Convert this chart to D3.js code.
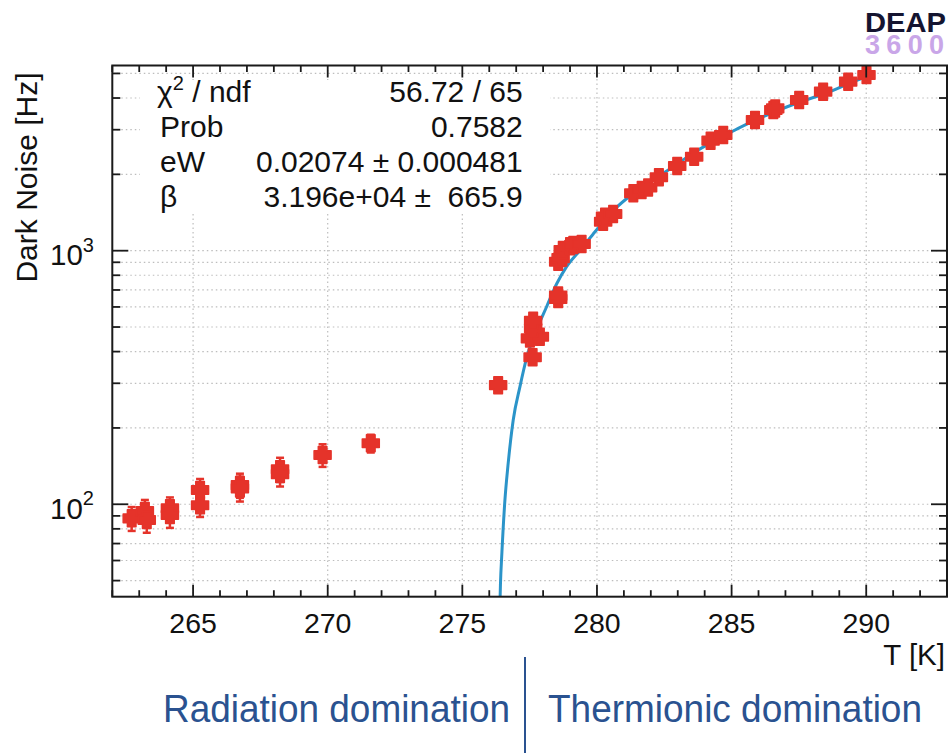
<!DOCTYPE html>
<html>
<head>
<meta charset="utf-8">
<script src="https://cdn.jsdelivr.net/npm/d3@7"></script>
<style>
  html, body { margin: 0; padding: 0; background: #fff; }
  svg { display: block; }
  text { font-family: "Liberation Sans", Arial, Helvetica, sans-serif; }
</style>
</head>
<body>
<svg id="chart" width="949" height="753"></svg>
<script>
// ---------------- data ----------------
const temperatureK = [262.72, 263.21, 263.28, 264.14, 264.14, 265.26, 265.26, 266.74, 266.74, 268.23, 268.23,
  269.81, 271.60, 276.33, 277.61, 277.51, 277.88, 277.63, 277.63, 278.56, 278.56, 278.56, 278.65, 278.73,
  279.00, 279.12, 279.43, 280.23, 280.30, 280.60, 281.35, 281.66, 281.90, 282.30, 282.98, 283.61, 284.22,
  284.69, 285.87, 286.55, 286.62, 287.51, 288.40, 289.33, 290.01];
const darkNoiseHz = [88, 94, 86.7, 96.4, 90.7, 113.8, 99.1, 119, 115.5, 137.5, 131.5,
  156.4, 174, 295, 380, 451, 458, 494, 529, 645, 665, 905, 935, 1006,
  1040, 1053, 1063, 1301, 1362, 1395, 1684, 1735, 1775, 1947, 2158, 2348, 2716,
  2859, 3277, 3587, 3640, 3929, 4238, 4640, 4929];
const darkNoiseErrHz = [9.5, 10, 9.5, 10, 10, 12, 10, 13, 13, 15, 14,
  16, 14, 8, 12, 14, 14, 15, 16, 18, 18, 22, 22, 25,
  25, 25, 25, 30, 30, 30, 35, 35, 35, 40, 45, 45, 50,
  50, 60, 65, 65, 70, 75, 80, 85];

// fit curve
const fitT = [276.378, 276.415, 276.471, 276.582, 276.693, 276.89, 277.14, 277.388, 277.759, 278.13, 278.50,
  278.873, 279.367, 279.861, 280.232, 280.666, 281.224, 282.03, 282.958, 283.575, 284.317, 285.06, 285.80,
  286.67, 287.536, 288.528, 289.27, 290.013];
const fitHz = [33.4, 48.1, 64.9, 104, 141.6, 215, 291, 377.6, 487, 601, 739,
  865, 1002, 1164, 1298, 1460, 1643, 1883, 2188, 2428, 2696, 2965, 3240,
  3555, 3859, 4187, 4523, 4855];

const xMajorTicks = [265, 270, 275, 280, 285, 290];
const xMinorTicks = d3.range(262, 294, 1).filter(v => !xMajorTicks.includes(v));
const yMajorTicks = [100, 1000];
const yMajorLabels = ["2", "3"];
const yMinorTicks = [50, 60, 70, 80, 90, 200, 300, 400, 500, 600, 700, 800, 900, 2000, 3000, 4000, 5000];

const statsNames = ["χ", "Prob", "eW", "β"];
const statsValues = ["56.72 / 65", "0.7582", "0.02074 ± 0.000481", "3.196e+04 ±  665.9"];

// ---------------- layout ----------------
const L = 112.3, R = 947, T = 65.5, B = 596.7;
const svg = d3.select("#chart");
const x = d3.scaleLinear().domain([262, 293]).range([L, R]);
const y = d3.scaleLog().domain([43.2, 5374]).range([B, T]);

const red = "#e5332a";
const blue = "#2b94c9";
const annBlue = "#2a5290";

// grid
const grid = svg.append("g");
grid.selectAll("line.gy").data(yMinorTicks.concat(yMajorTicks)).join("line")
  .attr("x1", L).attr("x2", R).attr("y1", d => y(d)).attr("y2", d => y(d))
  .attr("stroke", "#bdbdbd").attr("stroke-width", 1.2).attr("stroke-dasharray", "1.5,3");
grid.selectAll("line.gx").data(xMajorTicks).join("line")
  .attr("y1", T).attr("y2", B).attr("x1", d => x(d)).attr("x2", d => x(d))
  .attr("stroke", "#bdbdbd").attr("stroke-width", 1.2).attr("stroke-dasharray", "1.5,3");

// stats box (white background)
svg.append("rect").attr("x", 140).attr("y", 80).attr("width", 410).attr("height", 134).attr("fill", "#fff");
const stats = svg.append("g").attr("font-size", 30).attr("fill", "#111");
statsNames.forEach((n, i) => {
  const yy = 101.5 + i * 35.3;
  const t = stats.append("text").attr("x", i === 0 ? 157 : 160).attr("y", yy);
  if (i === 0) {
    t.append("tspan").text("χ");
    t.append("tspan").attr("font-size", 20).attr("dy", -12).text("2");
    t.append("tspan").attr("dy", 12).text(" / ndf");
  } else {
    t.text(n);
  }
  stats.append("text").attr("x", 522.7).attr("y", yy).attr("text-anchor", "end")
    .style("white-space", "pre").text(statsValues[i]);
});

// clip
svg.append("defs").append("clipPath").attr("id", "plotclip")
  .append("rect").attr("x", L).attr("y", T).attr("width", R - L).attr("height", B - T);

// fit curve
const fitData = fitT.map((t, i) => [t, fitHz[i]]);
svg.append("path").datum(fitData)
  .attr("clip-path", "url(#plotclip)")
  .attr("d", d3.line().x(d => x(d[0])).y(d => y(d[1])).curve(d3.curveMonotoneX))
  .attr("fill", "none").attr("stroke", blue).attr("stroke-width", 3);

// data points
const pts = temperatureK.map((t, i) => ({ t, v: darkNoiseHz[i], e: darkNoiseErrHz[i] }));
const eb = svg.append("g").attr("stroke", red).attr("stroke-width", 2.5);
pts.forEach(p => {
  const cx = x(p.t), y1 = y(p.v + p.e), y2 = y(p.v - p.e);
  eb.append("line").attr("x1", cx).attr("x2", cx).attr("y1", y1).attr("y2", y2);
  eb.append("line").attr("x1", cx - 4).attr("x2", cx + 4).attr("y1", y1).attr("y2", y1);
  eb.append("line").attr("x1", cx - 4).attr("x2", cx + 4).attr("y1", y2).attr("y2", y2);
});
const crossSym = {
  draw(ctx, size) {
    const w = 8.5, h = 4.3;
    ctx.moveTo(-h, -w); ctx.lineTo(h, -w); ctx.lineTo(h, -h); ctx.lineTo(w, -h);
    ctx.lineTo(w, h); ctx.lineTo(h, h); ctx.lineTo(h, w); ctx.lineTo(-h, w);
    ctx.lineTo(-h, h); ctx.lineTo(-w, h); ctx.lineTo(-w, -h); ctx.lineTo(-h, -h);
    ctx.closePath();
  }
};
svg.append("g").selectAll("path").data(pts).join("path")
  .attr("transform", d => `translate(${x(d.t)},${y(d.v)})`)
  .attr("d", d3.symbol().type(crossSym).size(100)())
  .attr("fill", red).attr("stroke", red).attr("stroke-width", 1.5).attr("stroke-linejoin", "round");

// frame
svg.append("rect").attr("x", L).attr("y", T).attr("width", R - L).attr("height", B - T)
  .attr("fill", "none").attr("stroke", "#1a1a1a").attr("stroke-width", 2);

// ticks
const tk = svg.append("g").attr("stroke", "#1a1a1a").attr("stroke-width", 1.8);
xMajorTicks.forEach(v => {
  tk.append("line").attr("x1", x(v)).attr("x2", x(v)).attr("y1", B).attr("y2", B - 12);
  tk.append("line").attr("x1", x(v)).attr("x2", x(v)).attr("y1", T).attr("y2", T + 12);
});
xMinorTicks.forEach(v => {
  tk.append("line").attr("x1", x(v)).attr("x2", x(v)).attr("y1", B).attr("y2", B - 6.5);
  tk.append("line").attr("x1", x(v)).attr("x2", x(v)).attr("y1", T).attr("y2", T + 6.5);
});
yMajorTicks.forEach(v => {
  tk.append("line").attr("y1", y(v)).attr("y2", y(v)).attr("x1", L).attr("x2", L + 16);
  tk.append("line").attr("y1", y(v)).attr("y2", y(v)).attr("x1", R).attr("x2", R - 16);
});
yMinorTicks.forEach(v => {
  tk.append("line").attr("y1", y(v)).attr("y2", y(v)).attr("x1", L).attr("x2", L + 8);
  tk.append("line").attr("y1", y(v)).attr("y2", y(v)).attr("x1", R).attr("x2", R - 8);
});

// tick labels
svg.append("g").selectAll("text").data(xMajorTicks).join("text")
  .attr("x", d => x(d)).attr("y", 633).attr("text-anchor", "middle")
  .attr("font-size", 28.5).attr("fill", "#111").text(d => d);
yMajorTicks.forEach((v, i) => {
  const t = svg.append("text").attr("x", 50).attr("y", y(v) + 14.5)
    .attr("font-size", 29.5).attr("fill", "#111");
  t.append("tspan").text("10");
  t.append("tspan").attr("font-size", 20).attr("dy", -13.5).text(yMajorLabels[i]);
});

// axis titles
svg.append("text").attr("transform", "translate(37,72.5) rotate(-90)")
  .attr("text-anchor", "end").attr("font-size", 30).attr("fill", "#111").text("Dark Noise [Hz]");
svg.append("text").attr("x", 945).attr("y", 665).attr("text-anchor", "end")
  .attr("font-size", 29.5).attr("fill", "#111").text("T [K]");

// annotations
svg.append("line").attr("x1", 525).attr("x2", 525).attr("y1", 657).attr("y2", 753)
  .attr("stroke", annBlue).attr("stroke-width", 2);
svg.append("text").attr("x", 163).attr("y", 722).attr("font-size", 38).attr("fill", annBlue)
  .attr("textLength", 347).attr("lengthAdjust", "spacingAndGlyphs").text("Radiation domination");
svg.append("text").attr("x", 548).attr("y", 722).attr("font-size", 38).attr("fill", annBlue)
  .attr("textLength", 374).attr("lengthAdjust", "spacingAndGlyphs").text("Thermionic domination");

// logo (single text block, two lines)
const logo = svg.append("text").attr("font-weight", "bold");
logo.append("tspan").attr("x", 865).attr("y", 31.5).attr("font-size", 28).attr("fill", "#141430")
  .attr("textLength", 81).attr("lengthAdjust", "spacingAndGlyphs").text("DEAP");
logo.append("tspan").attr("x", 865).attr("y", 54).attr("font-size", 27).attr("fill", "#c9a6e8")
  .attr("textLength", 79).attr("lengthAdjust", "spacing").text("3600");
</script>
</body>
</html>
